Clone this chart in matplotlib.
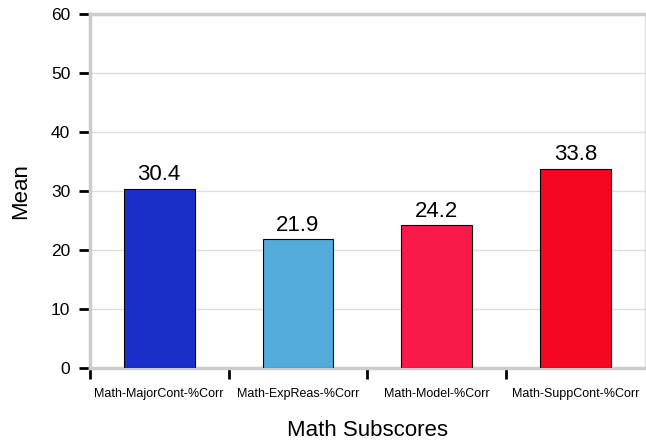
import matplotlib.pyplot as plt
import numpy as np

plt.rcParams['font.family'] = ['Liberation Sans', 'DejaVu Sans']

categories = ['Math-MajorCont-%Corr', 'Math-ExpReas-%Corr', 'Math-Model-%Corr', 'Math-SuppCont-%Corr']
means = [30.4, 21.9, 24.2, 33.8]
colors = ['#1a2fc8', '#52abdb', '#fa1a4a', '#f5071f']

fig = plt.figure(figsize=(6.46, 4.44), dpi=100)
ax = fig.add_axes([0.139, 0.171, 0.859, 0.797])

x = np.arange(len(categories))
bars = ax.bar(x, means, width=0.51, color=colors, edgecolor='black', linewidth=0.8, zorder=3)
for xi, v in zip(x, means):
    ax.annotate('%.1f' % v, (xi, v), xytext=(0, 6), textcoords='offset points',
                ha='center', va='baseline', fontsize=16, zorder=4)

ax.set_xlim(-0.5, 3.5)
ax.set_ylim(0, 60)
ax.set_yticks(np.arange(0, 61, 10))
ax.yaxis.grid(True, color='#dddddd', linewidth=1, zorder=0)

# boundary ticks (no labels) + labels at bar centers
ax.set_xticks([-0.5, 0.5, 1.5, 2.5])
ax.set_xticklabels([])
ax.set_xticks(x, minor=True)
ax.set_xticklabels(categories, minor=True, fontsize=9)
ax.tick_params(axis='x', which='major', length=8, width=2, color='black', direction='out')
ax.tick_params(axis='x', which='minor', length=0, pad=14)
ax.tick_params(axis='y', length=8, width=2, color='black', direction='out', labelsize=12.5, pad=6)

for s in ['left', 'bottom', 'top']:
    ax.spines[s].set_color('#cccccc')
    ax.spines[s].set_linewidth(2.5)
ax.spines['right'].set_color('#dddddd')
ax.spines['right'].set_linewidth(1)

ax.set_xlabel('Math Subscores', fontsize=16, labelpad=15)
ax.set_ylabel('Mean', fontsize=16, labelpad=14)

fig.text(0.573, 1 - 2.0 / 444, 'Math Subscores', ha='center', va='bottom', fontsize=16, color='#888888')

fig.savefig('out.png', dpi=100)
